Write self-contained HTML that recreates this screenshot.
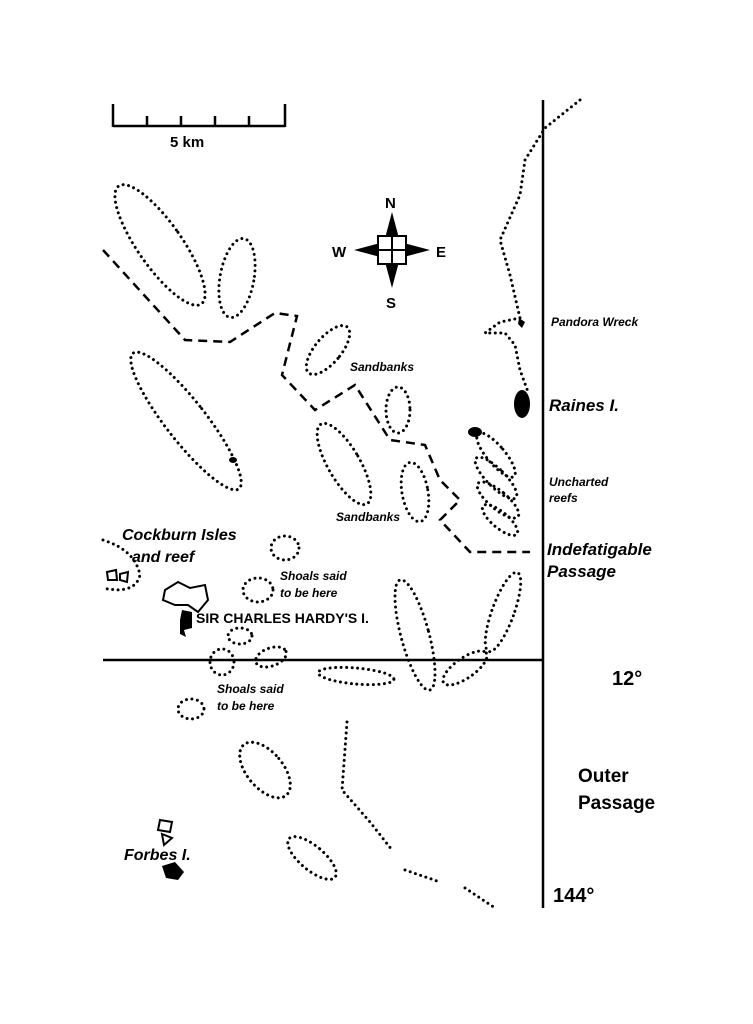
<!DOCTYPE html>
<html><head><meta charset="utf-8"><style>
html,body{margin:0;padding:0;background:#fff}
svg{display:block}
text{font-family:"Liberation Sans",Arial,sans-serif;font-weight:bold;fill:#000}
.i{font-style:italic}
.d{fill:none;stroke:#000;stroke-width:3;stroke-linecap:round;stroke-dasharray:0 5.5}
.k{fill:none;stroke:#000;stroke-width:2.5;stroke-dasharray:9 6}
</style></head><body>
<svg width="753" height="1024" viewBox="0 0 753 1024" xmlns="http://www.w3.org/2000/svg">
<!-- scale -->
<g stroke="#000" stroke-width="2.5" fill="none">
<path d="M113 126H285M113 104V127M285 104V127M147 116V126M181 116V126M215 116V126M249 116V126"/>
<line x1="543" y1="100" x2="543" y2="908"/>
<line x1="103" y1="660" x2="543" y2="660"/>
</g>
<text x="170" y="147" font-size="15">5 km</text>
<!-- compass -->
<g transform="translate(392,250)">
<path d="M0,-38 L8,-8 L38,0 L8,8 L0,38 L-8,8 L-38,0 L-8,-8Z" fill="#000"/>
<path d="M-14,-14H14V14H-14Z" fill="#fff" stroke="#000" stroke-width="2"/>
<path d="M0,-16V16M-16,0H16" stroke="#000" stroke-width="2"/>
</g>
<text x="385" y="208" font-size="15">N</text>
<text x="386" y="308" font-size="15">S</text>
<text x="332" y="257" font-size="15">W</text>
<text x="436" y="257" font-size="15">E</text>
<!-- dashed route -->
<path class="k" d="M103 250 L185 340 L230 342 L275 313 L297 316 L282 375 L315 410 L355 385 L390 440 L425 445 L440 480 L460 500 L440 520 L470 552 L530 552"/>
<!-- coast -->
<path class="d" d="M580 100 L545 128 L525 160 L520 195 L500 240 L510 275 L520 318 L500 322 L485 333 L505 333 L515 345 L520 370 L528 392"/>
<!-- dotted shapes -->
<g class="d">
<ellipse cx="160" cy="245" rx="22" ry="72" transform="rotate(-35 160 245)"/>
<ellipse cx="237" cy="278" rx="17" ry="40" transform="rotate(10 237 278)"/>
<ellipse cx="186" cy="421" rx="20" ry="86" transform="rotate(-38 186 421)"/>
<ellipse cx="328" cy="350" rx="13" ry="30" transform="rotate(40 328 350)"/>
<ellipse cx="398" cy="410" rx="12" ry="23"/>
<ellipse cx="344" cy="464" rx="16" ry="46" transform="rotate(-30 344 464)"/>
<ellipse cx="415" cy="492" rx="13" ry="30" transform="rotate(-10 415 492)"/>
<ellipse cx="496" cy="455" rx="9" ry="28" transform="rotate(-40 496 455)"/>
<ellipse cx="496" cy="478" rx="9" ry="28" transform="rotate(-45 496 478)"/>
<ellipse cx="498" cy="500" rx="9" ry="26" transform="rotate(-50 498 500)"/>
<ellipse cx="500" cy="520" rx="8" ry="22" transform="rotate(-50 500 520)"/>
<ellipse cx="285" cy="548" rx="14" ry="12"/>
<ellipse cx="258" cy="590" rx="15" ry="12"/>
<ellipse cx="240" cy="636" rx="12" ry="8"/>
<ellipse cx="222" cy="662" rx="12" ry="13"/>
<ellipse cx="271" cy="657" rx="16" ry="9" transform="rotate(-20 271 657)"/>
<ellipse cx="415" cy="635" rx="14" ry="57" transform="rotate(-15 415 635)"/>
<ellipse cx="503" cy="612" rx="11" ry="42" transform="rotate(20 503 612)"/>
<ellipse cx="465" cy="668" rx="26" ry="10" transform="rotate(-35 465 668)"/>
<ellipse cx="356" cy="676" rx="38" ry="8" transform="rotate(5 356 676)"/>
<ellipse cx="191" cy="709" rx="13" ry="10"/>
<ellipse cx="265" cy="770" rx="18" ry="33" transform="rotate(-40 265 770)"/>
<ellipse cx="312" cy="858" rx="12" ry="30" transform="rotate(-50 312 858)"/>
<path d="M347 722 L342 790 L370 822 L392 850"/>
<path d="M405 870 L440 882"/>
<path d="M465 888 L495 908"/>
<path d="M103 540 Q135 550 140 575 Q135 595 103 588"/>
</g>
<!-- islands -->
<ellipse cx="522" cy="404" rx="8" ry="14" fill="#000"/>
<ellipse cx="475" cy="432" rx="7" ry="5" fill="#000"/>
<ellipse cx="233" cy="460" rx="4" ry="3" fill="#000"/>
<path d="M165 590 L178 582 L190 588 L205 585 L208 600 L198 612 L188 605 L175 605 L163 600Z" fill="#fff" stroke="#000" stroke-width="2"/>
<path d="M182 610 L192 612 L192 628 L184 630 L186 637 L180 634 L180 620Z" fill="#000"/>
<path d="M107 572 L116 570 L117 580 L108 580Z M120 574 L128 572 L127 582 L120 580Z" fill="none" stroke="#000" stroke-width="2"/>
<path d="M160 820 L172 822 L170 832 L158 830Z M162 834 L172 838 L164 845Z" fill="none" stroke="#000" stroke-width="2"/>
<path d="M162 866 L175 862 L184 872 L178 880 L166 878Z" fill="#000"/>
<path d="M519 318 L525 322 L522 328 L518 324Z" fill="#000"/>
<!-- labels -->
<g class="i">
<text x="551" y="326" font-size="12">Pandora Wreck</text>
<text x="549" y="411" font-size="17">Raines I.</text>
<text x="549" y="486" font-size="12">Uncharted</text>
<text x="549" y="502" font-size="12">reefs</text>
<text x="547" y="555" font-size="17">Indefatigable</text>
<text x="547" y="577" font-size="17">Passage</text>
<text x="122" y="540" font-size="16">Cockburn Isles</text>
<text x="132" y="562" font-size="16">and reef</text>
<text x="280" y="580" font-size="12">Shoals said</text>
<text x="280" y="597" font-size="12">to be here</text>
<text x="217" y="693" font-size="12">Shoals said</text>
<text x="217" y="710" font-size="12">to be here</text>
<text x="124" y="860" font-size="16">Forbes I.</text>
<text x="350" y="371" font-size="12">Sandbanks</text>
<text x="336" y="521" font-size="12">Sandbanks</text>
</g>
<text x="196" y="623" font-size="14">SIR CHARLES HARDY'S I.</text>
<text x="612" y="685" font-size="20">12°</text>
<text x="578" y="782" font-size="19">Outer</text>
<text x="578" y="809" font-size="19">Passage</text>
<text x="553" y="902" font-size="20">144°</text>
</svg>
</body></html>
